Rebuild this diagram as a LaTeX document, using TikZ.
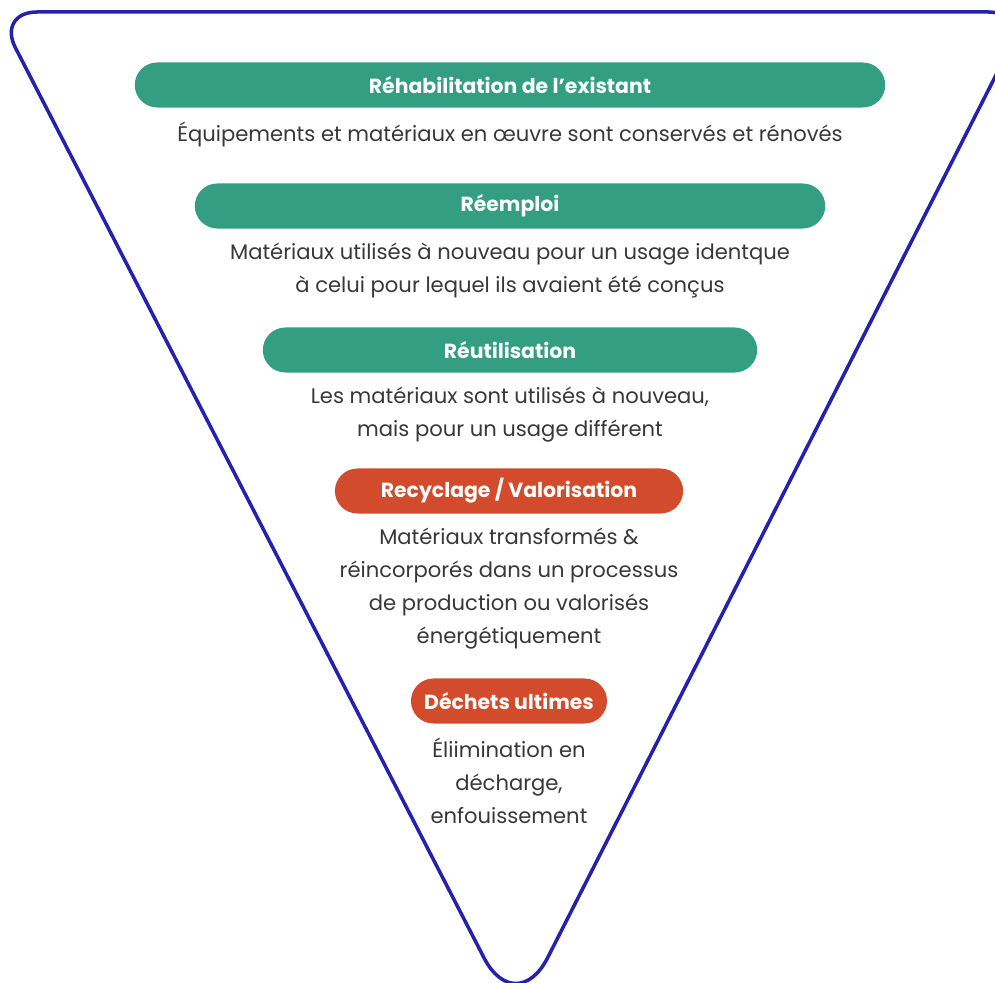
\documentclass[tikz,border=0pt]{standalone}
\usepackage{fontspec}
\setmainfont{Poppins}
\usetikzlibrary{positioning}

\definecolor{triblue}{HTML}{2222AE}
\definecolor{pillgreen}{HTML}{349E83}
\definecolor{pillred}{HTML}{D24B2C}
\definecolor{txtgray}{HTML}{383838}

\tikzset{
  pill/.style={rounded corners=2.25mm, minimum height=4.5mm, inner sep=0pt,
    text=white, font=\fontsize{5.8pt}{7pt}\selectfont\bfseries},
  greenpill/.style={pill, fill=pillgreen},
  redpill/.style={pill, fill=pillred},
  desc/.style={align=center, text=txtgray, inner sep=0pt,
    font=\fontsize{6pt}{9.4pt}\selectfont},
}

\begin{document}
\begin{tikzpicture}[x=0.01cm, y=-0.01cm, node distance=1.3mm]

    \useasboundingbox (0,0) rectangle (995,983);

    % inverted triangle
    \coordinate (tl) at (-3,12);
    \coordinate (tr) at (1028,12);
    \coordinate (tip) at (516,1020);
    \draw[triblue, line width=1pt, rounded corners=4mm]
        (510,12) -- (tr) [rounded corners=7mm] -- (tip) [rounded corners=4mm] -- (tl) -- cycle;

    \node[greenpill, minimum width=7.5cm] (p1) at (510,85) {Réhabilitation de l’existant};
    \node[desc] (d1) [below=of p1] {Équipements et matériaux en œuvre sont conservés et rénovés};

    \node[greenpill, minimum width=6.3cm] (p2) at (510,206) {Réemploi};
    \node[desc] (d2) [below=of p2] {Matériaux utilisés à nouveau pour un usage identque\\à celui pour lequel ils avaient été conçus};

    \node[greenpill, minimum width=4.94cm] (p3) at (510,350) {Réutilisation};
    \node[desc] (d3) [below=of p3] {Les matériaux sont utilisés à nouveau,\\mais pour un usage différent};

    \node[redpill, minimum width=3.48cm] (p4) at (509,491) {Recyclage / Valorisation};
    \node[desc] (d4) [below=of p4] {Matériaux transformés \&\\réincorporés dans un processus\\de production ou valorisés\\énergétiquement};

    \node[redpill, minimum width=1.96cm] (p5) at (509,701) {Déchets ultimes};
    \node[desc] (d5) [below=of p5] {Éliimination en\\décharge,\\enfouissement};

\end{tikzpicture}
\end{document}
